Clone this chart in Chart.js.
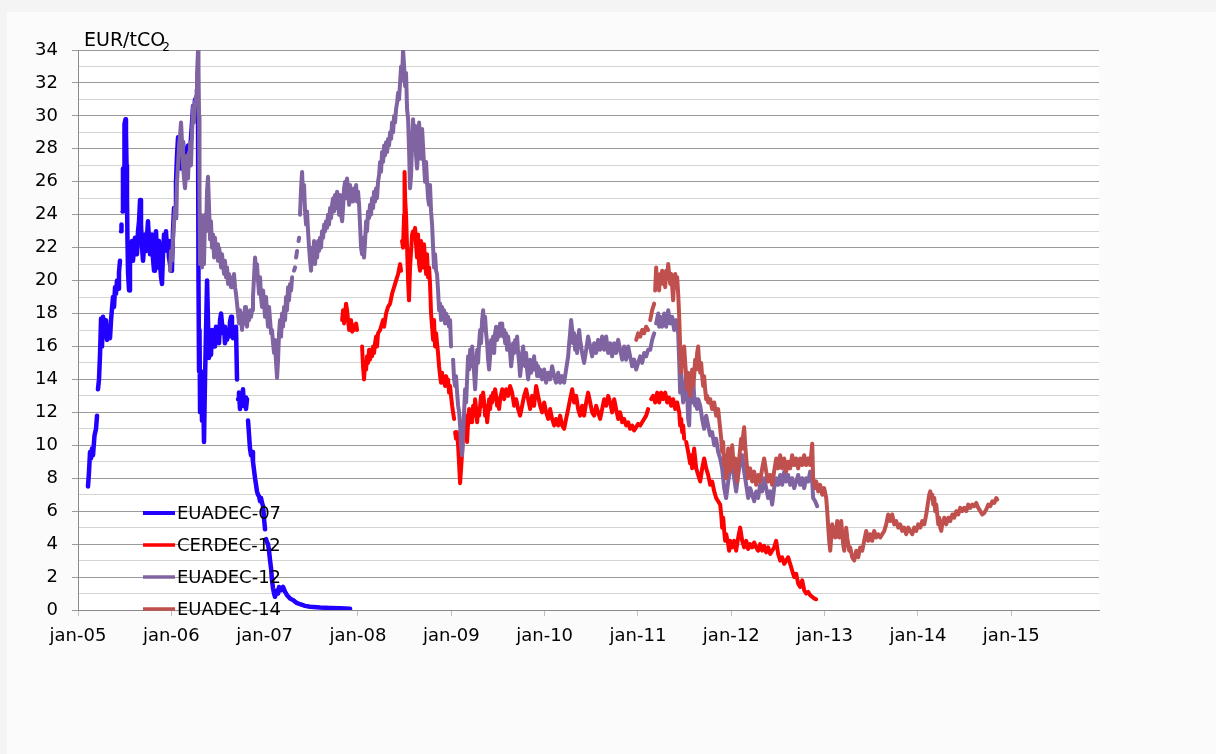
<!DOCTYPE html>
<html>
<head>
<meta charset="utf-8">
<title>EUA and CER futures prices</title>
<script src="https://cdn.jsdelivr.net/npm/chart.js@4.4.1/dist/chart.umd.min.js"></script>
<style>
  html, body { margin: 0; padding: 0; background: #fafafa; }
  canvas { display: block; }
</style>
</head>
<body>
<canvas id="chart" width="1216" height="754"></canvas>
<script>
// x values are decimal years, y values EUR/tCO2 (null = no quote)
var yearTicks = [2005, 2006, 2007, 2008, 2009, 2010, 2011, 2012, 2013, 2014, 2015];
var seriesLabels = ['EUADEC-07', 'CERDEC-12', 'EUADEC-12', 'EUADEC-14'];

var eua07Years = [
  2005.107, 2005.118, 2005.129, 2005.139, 2005.150, 2005.161, 2005.177, 2005.193, 2005.204, 2005.209,
  2005.214, 2005.225, 2005.236, 2005.247, 2005.257, 2005.268, 2005.279, 2005.289, 2005.300, 2005.311,
  2005.322, 2005.343, 2005.354, 2005.364, 2005.375, 2005.386, 2005.397, 2005.407, 2005.418, 2005.429,
  2005.439, 2005.450, 2005.455, 2005.461, 2005.466, 2005.471, 2005.477, 2005.482, 2005.488, 2005.493,
  2005.498, 2005.509, 2005.514, 2005.520, 2005.525, 2005.530, 2005.536, 2005.547, 2005.557, 2005.579,
  2005.589, 2005.611, 2005.632, 2005.643, 2005.654, 2005.665, 2005.675, 2005.686, 2005.697, 2005.718,
  2005.729, 2005.750, 2005.761, 2005.772, 2005.793, 2005.804, 2005.815, 2005.825, 2005.836, 2005.847,
  2005.857, 2005.868, 2005.879, 2005.890, 2005.900, 2005.911, 2005.922, 2005.932, 2005.943, 2005.954,
  2005.965, 2005.975, 2005.986, 2005.997, 2006.007, 2006.018, 2006.029, 2006.040, 2006.050, 2006.061,
  2006.072, 2006.083, 2006.093, 2006.104, 2006.115, 2006.125, 2006.136, 2006.147, 2006.158, 2006.168,
  2006.179, 2006.190, 2006.200, 2006.211, 2006.222, 2006.233, 2006.243, 2006.254, 2006.265, 2006.275,
  2006.286, 2006.291, 2006.297, 2006.302, 2006.308, 2006.318, 2006.329, 2006.340, 2006.350, 2006.361,
  2006.372, 2006.383, 2006.393, 2006.404, 2006.415, 2006.425, 2006.436, 2006.447, 2006.458, 2006.468,
  2006.479, 2006.490, 2006.500, 2006.511, 2006.522, 2006.533, 2006.543, 2006.554, 2006.565, 2006.575,
  2006.586, 2006.597, 2006.608, 2006.618, 2006.629, 2006.640, 2006.650, 2006.661, 2006.672, 2006.683,
  2006.693, 2006.704, 2006.710, 2006.715, 2006.725, 2006.736, 2006.747, 2006.758, 2006.768, 2006.779,
  2006.790, 2006.800, 2006.811, 2006.816, 2006.822, 2006.833, 2006.843, 2006.854, 2006.865, 2006.875,
  2006.886, 2006.897, 2006.908, 2006.918, 2006.929, 2006.940, 2006.951, 2006.961, 2006.972, 2006.983,
  2006.994, 2007.004, 2007.010, 2007.015, 2007.026, 2007.036, 2007.047, 2007.058, 2007.069, 2007.079,
  2007.090, 2007.101, 2007.111, 2007.122, 2007.133, 2007.144, 2007.154, 2007.176, 2007.197, 2007.219,
  2007.240, 2007.272, 2007.304, 2007.337, 2007.379, 2007.433, 2007.487, 2007.594, 2007.701, 2007.808,
  2007.915
];
var eua07Prices = [
  7.5, 8.4, 9.6, 9.2, 9.8, 9.4, 10.6, 11.0, 11.8, null,
  13.4, 14.0, 15.5, 17.7, 16.0, 17.8, 16.6, 17.2, 17.6, 16.4,
  17.0, 16.5, 17.6, 17.6, 19.0, 18.4, 19.6, 19.2, 20.0, 19.5,
  20.5, 21.2, null, 23.0, 23.4, null, 24.2, 26.8, 24.5, 26.5,
  29.5, 29.8, 29.0, 27.0, 25.0, 22.5, 20.5, 19.4, 21.0, 22.4,
  21.2, 22.6, 21.6, 23.0, 23.6, 24.9, 23.4, 22.0, 21.2, 22.8,
  21.8, 23.6, 22.4, 21.6, 22.8, 21.3, 20.6, 22.0, 23.0, 21.4,
  20.8, 22.4, 21.0, 20.2, 19.8, 21.6, 22.8, 22.0, 23.0, 21.8,
  22.4, 21.4, 21.0, 20.6, 20.8, 23.0, 24.4, 23.8, 26.0, 27.6,
  28.7, 27.2, 28.0, 26.8, 27.6, 28.4, 27.2, 27.8, 26.9, 27.6,
  28.2, 27.0, 27.6, 28.7, 29.6, 30.6, 30.2, 31.0, 30.8, 31.6,
  30.0, 20.0, 14.5, 17.0, 12.0, 14.5, 11.5, 13.8, 10.2, 14.0,
  17.0, 20.0, 17.5, 15.3, 16.8, 15.5, 17.0, 16.0, 16.6, 16.0,
  17.2, 16.4, 17.0, 16.2, 17.6, 18.0, 17.4, 16.8, 17.2, 16.2,
  16.8, 16.4, 17.0, 16.6, 17.5, 17.8, 17.0, 16.5, 17.0, 16.8,
  17.2, 14.0, null, 12.8, 13.2, 12.2, 13.0, 12.6, 13.4, 12.4,
  12.9, 12.2, 12.8, null, 11.5, 10.6, 9.8, 9.4, 9.6, 9.0,
  8.5, 8.0, 7.6, 7.2, 7.0, 6.9, 6.6, 6.8, 6.5, 6.3,
  5.5, 4.9, null, 4.3, 4.1, 4.0, 3.6, 3.0, 2.5, 1.8,
  1.3, 1.0, 0.8, 1.0, 1.2, 1.0, 1.4, 1.2, 1.4, 1.1,
  0.9, 0.7, 0.6, 0.45, 0.35, 0.25, 0.2, 0.15, 0.12, 0.1,
  0.07
];

var cer12Years = [
  2007.830, 2007.840, 2007.851, 2007.862, 2007.872, 2007.883, 2007.894, 2007.905, 2007.915, 2007.926,
  2007.937, 2007.947, 2007.958, 2007.964, 2007.980, 2007.990, 2008.000, 2008.044, 2008.054, 2008.065,
  2008.076, 2008.087, 2008.097, 2008.108, 2008.119, 2008.129, 2008.140, 2008.151, 2008.162, 2008.172,
  2008.183, 2008.194, 2008.204, 2008.215, 2008.237, 2008.258, 2008.269, 2008.280, 2008.301, 2008.322,
  2008.344, 2008.365, 2008.387, 2008.408, 2008.430, 2008.451, 2008.462, 2008.467, 2008.472, 2008.483,
  2008.494, 2008.499, 2008.505, 2008.515, 2008.526, 2008.537, 2008.547, 2008.558, 2008.569, 2008.580,
  2008.590, 2008.601, 2008.612, 2008.622, 2008.633, 2008.644, 2008.655, 2008.665, 2008.676, 2008.687,
  2008.697, 2008.708, 2008.719, 2008.730, 2008.740, 2008.751, 2008.762, 2008.772, 2008.783, 2008.794,
  2008.805, 2008.815, 2008.826, 2008.837, 2008.847, 2008.858, 2008.869, 2008.880, 2008.890, 2008.901,
  2008.912, 2008.922, 2008.933, 2008.944, 2008.955, 2008.965, 2008.976, 2008.987, 2008.997, 2009.009,
  2009.019, 2009.030, 2009.035, 2009.041, 2009.051, 2009.062, 2009.073, 2009.084, 2009.094, 2009.105,
  2009.116, 2009.126, 2009.137, 2009.148, 2009.159, 2009.169, 2009.180, 2009.191, 2009.202, 2009.212,
  2009.223, 2009.234, 2009.244, 2009.255, 2009.266, 2009.277, 2009.287, 2009.298, 2009.309, 2009.319,
  2009.330, 2009.341, 2009.352, 2009.362, 2009.373, 2009.384, 2009.394, 2009.405, 2009.416, 2009.427,
  2009.437, 2009.448, 2009.459, 2009.469, 2009.480, 2009.491, 2009.502, 2009.512, 2009.523, 2009.545,
  2009.566, 2009.587, 2009.609, 2009.630, 2009.652, 2009.673, 2009.695, 2009.716, 2009.737, 2009.759,
  2009.780, 2009.802, 2009.823, 2009.845, 2009.866, 2009.887, 2009.909, 2009.930, 2009.952, 2009.973,
  2009.995, 2010.016, 2010.038, 2010.059, 2010.080, 2010.102, 2010.123, 2010.145, 2010.166, 2010.188,
  2010.209, 2010.230, 2010.252, 2010.273, 2010.295, 2010.316, 2010.338, 2010.359, 2010.380, 2010.402,
  2010.423, 2010.445, 2010.466, 2010.488, 2010.509, 2010.531, 2010.552, 2010.573, 2010.595, 2010.616,
  2010.638, 2010.659, 2010.681, 2010.702, 2010.723, 2010.745, 2010.766, 2010.788, 2010.809, 2010.831,
  2010.852, 2010.873, 2010.895, 2010.916, 2010.938, 2010.959, 2010.981, 2011.002, 2011.024, 2011.045,
  2011.066, 2011.088, 2011.109, 2011.120, 2011.141, 2011.163, 2011.184, 2011.206, 2011.227, 2011.249,
  2011.270, 2011.292, 2011.313, 2011.334, 2011.356, 2011.377, 2011.399, 2011.420, 2011.442, 2011.452,
  2011.463, 2011.474, 2011.484, 2011.495, 2011.500, 2011.517, 2011.538, 2011.559, 2011.570, 2011.581,
  2011.592, 2011.602, 2011.613, 2011.624, 2011.645, 2011.667, 2011.688, 2011.709, 2011.731, 2011.752,
  2011.774, 2011.795, 2011.817, 2011.838, 2011.859, 2011.881, 2011.892, 2011.902, 2011.913, 2011.924,
  2011.934, 2011.945, 2011.967, 2011.977, 2011.988, 2012.010, 2012.031, 2012.052, 2012.074, 2012.095,
  2012.117, 2012.138, 2012.160, 2012.181, 2012.202, 2012.224, 2012.245, 2012.267, 2012.288, 2012.309,
  2012.331, 2012.352, 2012.374, 2012.395, 2012.417, 2012.438, 2012.459, 2012.481, 2012.502, 2012.524,
  2012.545, 2012.567, 2012.588, 2012.609, 2012.631, 2012.652, 2012.674, 2012.695, 2012.717, 2012.738,
  2012.760, 2012.781, 2012.802, 2012.824, 2012.845, 2012.867, 2012.888, 2012.910
];
var cer12Prices = [
  17.6, 18.2, 17.4, 18.0, 18.6, 18.2, 17.6, 17.0, 17.2, 17.6,
  16.9, 17.3, 17.0, null, 17.4, 17.0, null, 16.0, 14.8, 14.0,
  15.0, 14.6, 15.4, 15.0, 15.8, 15.2, 15.8, 15.4, 16.0, 15.6,
  16.2, 16.6, 16.0, 16.8, 17.0, 17.4, 17.6, 17.2, 18.0, 18.4,
  18.6, 19.2, 19.6, 20.0, 20.4, 21.0, 20.6, null, 22.4, 22.0,
  24.0, 26.6, 25.0, 24.0, 22.0, 20.0, 18.8, 20.8, 21.8, 22.8,
  23.0, 22.6, 23.2, 22.2, 21.4, 22.8, 21.0, 20.6, 22.4, 21.6,
  20.8, 22.2, 21.2, 20.4, 21.6, 20.2, 20.8, 19.8, 18.0, 17.2,
  16.4, 17.6, 16.0, 16.8, 16.2, 15.6, 14.8, 14.2, 13.8, 14.4,
  13.8, 14.0, 13.6, 14.2, 13.8, 14.0, 13.2, 13.6, 13.0, 12.4,
  12.0, 11.6, null, 10.8, 10.4, 10.8, 10.0, 8.8, 7.7, 8.6,
  9.6, 10.8, 11.6, 10.6, 11.8, 10.2, 11.4, 12.2, 11.4, 12.0,
  11.4, 12.4, 11.8, 12.8, 12.2, 11.4, 12.2, 11.8, 12.4, 13.0,
  12.4, 13.2, 12.6, 11.8, 12.4, 11.4, 12.0, 12.8, 12.2, 13.0,
  12.6, 13.2, 12.8, 13.4, 13.0, 12.4, 12.8, 12.2, 12.8, 13.4,
  12.8, 13.4, 13.0, 13.6, 13.2, 12.4, 12.8, 12.2, 11.8, 12.4,
  13.0, 13.4, 12.8, 12.2, 13.0, 12.4, 13.6, 13.0, 12.4, 12.0,
  12.6, 12.0, 11.6, 12.2, 11.6, 11.2, 11.6, 11.2, 11.8, 11.2,
  11.0, 11.6, 12.2, 12.8, 13.4, 12.6, 13.0, 12.2, 11.8, 12.4,
  11.8, 12.6, 13.2, 12.6, 12.0, 11.8, 12.4, 12.0, 11.6, 12.2,
  12.8, 12.4, 13.0, 12.6, 12.0, 12.8, 12.2, 11.6, 12.0, 11.4,
  11.6, 11.2, 11.4, 11.0, 11.2, 10.9, 11.1, 11.3, 11.2, 11.4,
  11.6, 11.8, 12.2, null, 12.8, 13.0, 12.6, 13.2, 12.6, 13.2,
  12.8, 13.2, 12.6, 12.9, 12.4, 12.8, 12.2, 12.6, 12.0, 11.2,
  11.6, 10.8, 11.2, 10.4, null, 10.2, 9.6, 8.9, 9.4, 8.6,
  9.2, 9.8, 9.2, 8.6, 8.2, 7.8, 8.6, 9.2, 8.6, 8.2,
  7.6, 7.8, 7.2, 6.8, 6.6, 6.4, 5.8, 5.0, 5.6, 4.8,
  4.2, 4.6, 4.0, 3.6, 4.2, 3.8, 4.2, 3.6, 4.4, 5.0,
  4.2, 3.8, 4.2, 3.7, 4.0, 3.8, 4.1, 3.8, 3.6, 4.0,
  3.6, 3.9, 3.5, 3.8, 3.4, 3.6, 3.8, 4.2, 3.4, 3.0,
  3.2, 2.8, 3.0, 3.2, 2.8, 2.4, 2.0, 2.2, 1.6, 1.4,
  1.8, 1.2, 1.0, 1.1, 0.9, 0.8, 0.7, 0.65
];

var eua12Years = [
  2005.986, 2005.997, 2006.007, 2006.018, 2006.029, 2006.040, 2006.050, 2006.061, 2006.072, 2006.083,
  2006.093, 2006.104, 2006.115, 2006.125, 2006.136, 2006.147, 2006.158, 2006.168, 2006.179, 2006.190,
  2006.200, 2006.211, 2006.222, 2006.233, 2006.243, 2006.254, 2006.265, 2006.275, 2006.286, 2006.291,
  2006.297, 2006.302, 2006.308, 2006.318, 2006.329, 2006.340, 2006.350, 2006.361, 2006.372, 2006.383,
  2006.393, 2006.404, 2006.415, 2006.425, 2006.436, 2006.447, 2006.458, 2006.468, 2006.479, 2006.490,
  2006.500, 2006.511, 2006.522, 2006.533, 2006.543, 2006.554, 2006.565, 2006.575, 2006.586, 2006.597,
  2006.608, 2006.618, 2006.629, 2006.640, 2006.650, 2006.661, 2006.672, 2006.683, 2006.693, 2006.704,
  2006.715, 2006.725, 2006.736, 2006.747, 2006.758, 2006.768, 2006.779, 2006.790, 2006.800, 2006.811,
  2006.822, 2006.833, 2006.843, 2006.854, 2006.865, 2006.875, 2006.886, 2006.897, 2006.908, 2006.918,
  2006.929, 2006.940, 2006.951, 2006.961, 2006.972, 2006.983, 2006.994, 2007.004, 2007.015, 2007.026,
  2007.036, 2007.047, 2007.058, 2007.069, 2007.079, 2007.090, 2007.101, 2007.111, 2007.122, 2007.133,
  2007.144, 2007.154, 2007.165, 2007.176, 2007.186, 2007.197, 2007.208, 2007.219, 2007.229, 2007.240,
  2007.251, 2007.261, 2007.272, 2007.283, 2007.294, 2007.300, 2007.315, 2007.326, 2007.331, 2007.337,
  2007.347, 2007.355, 2007.363, 2007.369, 2007.374, 2007.379, 2007.390, 2007.401, 2007.412, 2007.422,
  2007.433, 2007.444, 2007.454, 2007.465, 2007.476, 2007.487, 2007.497, 2007.508, 2007.519, 2007.529,
  2007.540, 2007.551, 2007.562, 2007.572, 2007.583, 2007.594, 2007.604, 2007.615, 2007.626, 2007.637,
  2007.647, 2007.658, 2007.669, 2007.679, 2007.690, 2007.701, 2007.712, 2007.722, 2007.733, 2007.744,
  2007.754, 2007.765, 2007.776, 2007.787, 2007.797, 2007.808, 2007.819, 2007.830, 2007.840, 2007.851,
  2007.862, 2007.872, 2007.883, 2007.894, 2007.905, 2007.915, 2007.926, 2007.937, 2007.947, 2007.958,
  2007.969, 2007.980, 2007.990, 2008.001, 2008.012, 2008.022, 2008.033, 2008.044, 2008.054, 2008.065,
  2008.076, 2008.087, 2008.097, 2008.108, 2008.119, 2008.129, 2008.140, 2008.151, 2008.162, 2008.172,
  2008.183, 2008.194, 2008.204, 2008.215, 2008.226, 2008.237, 2008.247, 2008.258, 2008.269, 2008.280,
  2008.290, 2008.301, 2008.312, 2008.322, 2008.333, 2008.344, 2008.355, 2008.365, 2008.376, 2008.387,
  2008.397, 2008.408, 2008.419, 2008.430, 2008.440, 2008.451, 2008.462, 2008.472, 2008.483, 2008.494,
  2008.505, 2008.515, 2008.526, 2008.537, 2008.547, 2008.558, 2008.569, 2008.580, 2008.590, 2008.601,
  2008.612, 2008.622, 2008.633, 2008.644, 2008.655, 2008.665, 2008.676, 2008.687, 2008.697, 2008.708,
  2008.719, 2008.730, 2008.740, 2008.751, 2008.762, 2008.772, 2008.783, 2008.794, 2008.805, 2008.815,
  2008.826, 2008.837, 2008.847, 2008.858, 2008.869, 2008.880, 2008.890, 2008.901, 2008.912, 2008.922,
  2008.933, 2008.944, 2008.955, 2008.965, 2008.976, 2008.987, 2008.997, 2009.003, 2009.019, 2009.030,
  2009.041, 2009.051, 2009.062, 2009.073, 2009.084, 2009.094, 2009.105, 2009.116, 2009.126, 2009.137,
  2009.148, 2009.159, 2009.169, 2009.180, 2009.191, 2009.202, 2009.212, 2009.223, 2009.234, 2009.244,
  2009.255, 2009.266, 2009.277, 2009.287, 2009.298, 2009.309, 2009.319, 2009.330, 2009.341, 2009.352,
  2009.362, 2009.373, 2009.384, 2009.394, 2009.405, 2009.416, 2009.427, 2009.437, 2009.448, 2009.459,
  2009.469, 2009.480, 2009.491, 2009.502, 2009.512, 2009.523, 2009.534, 2009.545, 2009.555, 2009.566,
  2009.577, 2009.587, 2009.598, 2009.609, 2009.620, 2009.630, 2009.641, 2009.652, 2009.662, 2009.673,
  2009.684, 2009.695, 2009.705, 2009.716, 2009.727, 2009.737, 2009.748, 2009.759, 2009.770, 2009.780,
  2009.791, 2009.802, 2009.812, 2009.823, 2009.834, 2009.845, 2009.855, 2009.866, 2009.877, 2009.887,
  2009.898, 2009.909, 2009.920, 2009.930, 2009.941, 2009.952, 2009.973, 2009.995, 2010.016, 2010.038,
  2010.059, 2010.080, 2010.102, 2010.123, 2010.145, 2010.166, 2010.188, 2010.209, 2010.230, 2010.252,
  2010.263, 2010.273, 2010.284, 2010.295, 2010.305, 2010.316, 2010.327, 2010.338, 2010.348, 2010.359,
  2010.370, 2010.380, 2010.402, 2010.423, 2010.445, 2010.466, 2010.488, 2010.509, 2010.531, 2010.552,
  2010.573, 2010.595, 2010.616, 2010.638, 2010.659, 2010.681, 2010.702, 2010.723, 2010.745, 2010.766,
  2010.788, 2010.809, 2010.831, 2010.852, 2010.873, 2010.895, 2010.916, 2010.938, 2010.959, 2010.981,
  2011.002, 2011.024, 2011.045, 2011.066, 2011.088, 2011.109, 2011.120, 2011.131, 2011.152, 2011.174,
  2011.179, 2011.195, 2011.217, 2011.227, 2011.238, 2011.259, 2011.281, 2011.302, 2011.313, 2011.324,
  2011.345, 2011.367, 2011.388, 2011.409, 2011.431, 2011.442, 2011.452, 2011.463, 2011.474, 2011.484,
  2011.495, 2011.506, 2011.517, 2011.527, 2011.538, 2011.549, 2011.559, 2011.570, 2011.581, 2011.592,
  2011.602, 2011.613, 2011.624, 2011.634, 2011.645, 2011.667, 2011.688, 2011.709, 2011.731, 2011.752,
  2011.774, 2011.795, 2011.817, 2011.838, 2011.859, 2011.881, 2011.902, 2011.924, 2011.945, 2011.967,
  2011.988, 2012.010, 2012.031, 2012.052, 2012.074, 2012.095, 2012.117, 2012.138, 2012.160, 2012.181,
  2012.202, 2012.224, 2012.245, 2012.267, 2012.288, 2012.309, 2012.331, 2012.352, 2012.374, 2012.395,
  2012.417, 2012.438, 2012.459, 2012.481, 2012.502, 2012.524, 2012.545, 2012.567, 2012.588, 2012.609,
  2012.631, 2012.652, 2012.674, 2012.695, 2012.717, 2012.738, 2012.760, 2012.781, 2012.802, 2012.824,
  2012.845, 2012.867, 2012.877, 2012.899, 2012.920
];
var eua12Prices = [
  20.6, 21.8, 21.2, 22.5, 23.5, 24.4, 23.8, 26.0, 27.0, 28.2,
  28.8, 29.6, 28.4, 27.0, 26.2, 25.6, 26.8, 27.6, 26.2, 27.8,
  28.4, 27.0, 29.0, 30.6, 29.6, 30.8, 31.2, 32.5, 34.0, 33.0,
  30.0, 25.0, 21.0, 24.0, 20.8, 22.6, 21.0, 24.0, 23.0, 25.5,
  26.3, 24.5, 22.5, 23.6, 22.0, 22.8, 21.4, 22.6, 21.6, 22.2,
  21.2, 22.0, 21.6, 20.8, 21.6, 21.0, 20.4, 21.2, 20.2, 20.8,
  19.8, 20.4, 20.0, 19.6, 20.2, 19.8, 20.4, 19.6, 19.2, 18.6,
  18.0, 17.4, 18.2, 17.6, 17.0, 18.0, 17.8, 18.4, 17.4, 17.2,
  18.0, 17.6, 18.2, 17.8, 18.2, 19.0, 20.2, 21.4, 20.6, 21.0,
  20.0, 19.2, 20.2, 19.0, 18.4, 19.4, 18.6, 17.8, 19.0, 18.0,
  17.2, 18.4, 17.6, 16.8, 17.0, 16.2, 15.6, 16.4, 15.0, 14.1,
  15.2, 16.8, 17.6, 16.6, 18.0, 17.2, 18.4, 17.6, 19.0, 18.2,
  19.6, 18.8, 19.8, 19.4, 20.2, null, 20.6, 20.8, null, 21.4,
  21.8, null, 22.4, 22.6, null, 24.0, 25.6, 26.6, 25.0, 25.8,
  24.2, 23.4, 24.2, 23.0, 22.0, 21.2, 20.6, 22.0, 21.2, 22.4,
  21.0, 22.0, 21.4, 22.4, 21.8, 22.6, 22.0, 23.0, 22.6, 23.4,
  23.0, 23.6, 23.2, 24.0, 23.4, 24.4, 23.8, 24.6, 25.0, 24.2,
  25.2, 24.4, 25.4, 24.8, 24.0, 25.2, 24.0, 23.6, 24.4, 25.6,
  26.0, 25.0, 26.2, 25.4, 24.6, 25.8, 24.8, 25.4, 24.8, 25.6,
  25.0, 25.8, 24.8, 25.4, 24.6, 23.4, 22.0, 21.6, 22.6, 21.4,
  22.4, 23.6, 23.0, 24.2, 23.8, 24.6, 24.0, 25.0, 24.4, 25.4,
  24.8, 25.6, 25.0, 26.0, 26.4, 27.2, 26.6, 27.8, 27.2, 28.2,
  27.6, 28.4, 27.8, 28.6, 28.2, 29.0, 28.6, 29.6, 29.0, 30.0,
  29.6, 30.4, 30.8, 31.4, 31.0, 32.0, 33.0, 32.2, 34.0, 33.0,
  31.8, 32.6, 30.4, 29.8, 28.0, 25.6, 26.4, 28.4, 29.8, 28.6,
  29.4, 27.6, 26.8, 27.8, 29.6, 28.4, 27.4, 29.2, 28.2, 27.0,
  26.0, 27.2, 26.0, 25.0, 24.6, 25.8, 24.2, 23.4, 22.0, 20.8,
  21.6, 20.6, 20.4, 19.4, 18.2, 18.6, 17.6, 18.4, 17.8, 18.2,
  17.4, 18.0, 17.4, 17.8, 17.2, 17.6, 16.0, null, 15.2, 14.0,
  13.6, 14.2, 13.2, 12.4, 12.0, 11.2, 10.0, 9.4, 10.6, 12.0,
  13.4, 12.6, 14.0, 15.4, 14.6, 15.8, 14.8, 16.0, 15.2, 14.4,
  13.4, 14.6, 15.8, 15.0, 16.2, 17.0, 16.2, 17.6, 18.2, 17.0,
  17.8, 16.8, 16.2, 15.2, 14.6, 15.4, 16.4, 15.8, 16.6, 15.6,
  16.8, 17.2, 16.4, 17.0, 16.6, 17.4, 16.8, 17.4, 16.6, 17.0,
  16.2, 16.8, 15.8, 16.6, 16.0, 15.6, 14.8, 15.4, 16.2, 15.6,
  16.4, 15.8, 16.6, 15.6, 15.0, 14.2, 14.8, 15.6, 16.0, 15.2,
  14.8, 15.6, 14.6, 14.0, 14.6, 15.2, 14.4, 15.0, 14.6, 15.4,
  14.6, 15.0, 14.2, 14.8, 14.2, 14.6, 14.0, 14.6, 13.8, 14.4,
  14.0, 14.8, 14.2, 13.8, 14.4, 13.8, 14.2, 13.8, 14.6, 15.4,
  16.2, 16.8, 17.6, 17.0, 16.2, 16.8, 15.8, 16.6, 15.6, 16.4,
  17.0, 16.4, 15.6, 15.0, 15.8, 16.6, 16.0, 15.4, 16.2, 15.6,
  16.4, 15.8, 16.6, 15.8, 16.6, 15.6, 16.2, 15.4, 16.2, 15.6,
  16.4, 15.8, 15.2, 16.0, 15.2, 16.0, 15.4, 14.8, 15.2, 14.6,
  15.0, 15.4, 15.0, 15.6, 15.4, 15.8, null, 15.8, 16.4, 16.8,
  null, 17.4, 18.0, 17.2, 17.8, 17.2, 18.0, 17.2, 17.8, 18.2,
  17.4, 17.8, 17.0, 17.6, 16.8, 15.0, 13.2, 14.6, 13.4, 12.6,
  13.8, 12.8, 14.4, 13.2, 11.6, 11.2, 13.4, 13.8, 12.6, 14.0,
  13.0, 12.4, 12.8, 12.2, 12.8, 12.4, 11.6, 11.0, 11.8, 11.2,
  10.6, 10.8, 10.0, 10.4, 9.6, 9.2, 8.6, 7.4, 6.8, 7.8,
  8.6, 9.0, 8.0, 7.2, 8.2, 9.0, 9.4, 8.4, 7.6, 6.8,
  7.4, 7.0, 6.6, 7.2, 6.8, 7.6, 7.2, 8.0, 7.4, 6.8,
  7.2, 6.4, 7.4, 8.0, 7.6, 8.2, 7.6, 8.4, 7.8, 8.2,
  7.6, 8.0, 7.4, 7.8, 8.2, 7.6, 8.0, 7.4, 8.0, 7.8,
  8.4, 7.8, 6.8, 6.6, 6.3
];

var eua14Years = [
  2010.981, 2011.002, 2011.024, 2011.045, 2011.055, 2011.066, 2011.088, 2011.109, 2011.120, 2011.131,
  2011.152, 2011.174, 2011.179, 2011.184, 2011.195, 2011.206, 2011.217, 2011.227, 2011.238, 2011.249,
  2011.259, 2011.270, 2011.281, 2011.292, 2011.302, 2011.313, 2011.324, 2011.334, 2011.345, 2011.356,
  2011.367, 2011.377, 2011.388, 2011.399, 2011.409, 2011.420, 2011.431, 2011.442, 2011.452, 2011.463,
  2011.474, 2011.484, 2011.495, 2011.506, 2011.517, 2011.527, 2011.538, 2011.549, 2011.559, 2011.570,
  2011.581, 2011.592, 2011.602, 2011.613, 2011.624, 2011.634, 2011.645, 2011.656, 2011.667, 2011.677,
  2011.688, 2011.699, 2011.709, 2011.720, 2011.731, 2011.742, 2011.752, 2011.774, 2011.795, 2011.817,
  2011.838, 2011.859, 2011.881, 2011.892, 2011.902, 2011.913, 2011.924, 2011.934, 2011.945, 2011.956,
  2011.967, 2011.977, 2011.988, 2011.999, 2012.010, 2012.020, 2012.031, 2012.042, 2012.052, 2012.063,
  2012.074, 2012.085, 2012.095, 2012.106, 2012.117, 2012.127, 2012.138, 2012.149, 2012.160, 2012.170,
  2012.181, 2012.202, 2012.224, 2012.245, 2012.267, 2012.288, 2012.309, 2012.331, 2012.352, 2012.374,
  2012.395, 2012.417, 2012.438, 2012.459, 2012.481, 2012.502, 2012.524, 2012.545, 2012.567, 2012.588,
  2012.609, 2012.631, 2012.652, 2012.674, 2012.695, 2012.717, 2012.738, 2012.760, 2012.781, 2012.802,
  2012.824, 2012.845, 2012.856, 2012.867, 2012.877, 2012.899, 2012.910, 2012.931, 2012.952, 2012.974,
  2012.995, 2013.017, 2013.028, 2013.039, 2013.049, 2013.060, 2013.071, 2013.081, 2013.092, 2013.103,
  2013.114, 2013.124, 2013.135, 2013.146, 2013.156, 2013.167, 2013.178, 2013.189, 2013.199, 2013.210,
  2013.221, 2013.231, 2013.242, 2013.253, 2013.264, 2013.274, 2013.296, 2013.317, 2013.339, 2013.360,
  2013.381, 2013.403, 2013.424, 2013.446, 2013.467, 2013.489, 2013.510, 2013.531, 2013.553, 2013.574,
  2013.596, 2013.617, 2013.639, 2013.660, 2013.681, 2013.703, 2013.724, 2013.746, 2013.767, 2013.789,
  2013.810, 2013.831, 2013.853, 2013.874, 2013.896, 2013.917, 2013.939, 2013.960, 2013.982, 2014.003,
  2014.025, 2014.046, 2014.068, 2014.089, 2014.110, 2014.121, 2014.132, 2014.143, 2014.153, 2014.164,
  2014.175, 2014.185, 2014.196, 2014.207, 2014.218, 2014.228, 2014.239, 2014.250, 2014.260, 2014.282,
  2014.303, 2014.325, 2014.346, 2014.368, 2014.389, 2014.411, 2014.432, 2014.453, 2014.475, 2014.496,
  2014.518, 2014.539, 2014.561, 2014.582, 2014.603, 2014.625, 2014.646, 2014.668, 2014.689, 2014.711,
  2014.732, 2014.754, 2014.775, 2014.797, 2014.818, 2014.839, 2014.850
];
var eua14Prices = [
  16.4, 16.8, 16.6, 17.0, null, 16.8, 17.2, 17.0, null, 17.6,
  18.2, 18.6, null, 19.4, 20.8, 19.6, 20.2, 19.4, 20.4, 20.0,
  20.6, 19.8, 20.4, 19.6, 20.6, 20.2, 21.0, 20.4, 19.8, 20.4,
  19.6, 18.8, 20.0, 20.4, 19.6, 20.2, 19.2, 17.8, 16.0, 14.4,
  15.8, 14.8, 16.0, 15.0, 14.2, 13.4, 14.4, 13.6, 13.0, 13.8,
  14.6, 13.6, 14.2, 15.2, 14.6, 15.6, 16.0, 15.0, 14.4, 15.0,
  14.2, 13.6, 14.2, 13.4, 12.8, 13.0, 12.6, 12.8, 12.2, 12.6,
  11.8, 12.2, 11.0, 10.4, 9.6, 10.2, 8.8, 9.4, 8.0, 8.8,
  9.8, 9.0, 8.4, 9.4, 10.0, 9.2, 8.6, 9.2, 8.2, 7.8,
  8.6, 9.2, 9.8, 10.4, 9.8, 10.6, 11.1, 10.0, 9.2, 8.6,
  8.0, 8.6, 7.8, 8.4, 7.6, 8.2, 7.8, 8.6, 9.2, 8.4,
  7.8, 8.2, 7.6, 8.4, 9.2, 8.6, 9.4, 8.6, 9.2, 8.4,
  9.0, 8.6, 9.4, 8.8, 9.2, 8.6, 9.2, 8.8, 9.4, 8.8,
  9.2, 8.8, 9.4, 10.1, 8.0, 7.4, 7.8, 7.2, 7.6, 7.0,
  7.4, 6.8, 6.0, 5.0, 4.2, 3.6, 4.4, 5.2, 4.6, 5.0,
  4.4, 4.8, 5.4, 5.0, 4.4, 4.8, 5.4, 4.6, 4.0, 3.6,
  4.2, 5.0, 4.4, 4.0, 3.6, 3.8, 3.2, 3.0, 3.6, 3.2,
  3.8, 3.6, 4.2, 4.8, 4.2, 4.6, 4.2, 4.8, 4.4, 4.6,
  4.4, 4.6, 4.8, 5.2, 5.8, 5.4, 5.8, 5.2, 5.4, 5.0,
  5.2, 4.8, 5.0, 4.6, 5.0, 4.8, 4.6, 5.0, 4.8, 5.2,
  5.0, 5.4, 5.2, 5.8, 6.6, 7.0, 7.2, 6.8, 7.0, 6.4,
  6.8, 6.0, 6.4, 5.8, 5.2, 5.6, 5.0, 4.8, 5.2, 5.6,
  5.2, 5.6, 5.4, 5.8, 5.6, 6.0, 5.8, 6.2, 6.0, 6.2,
  6.0, 6.4, 6.2, 6.4, 6.3, 6.5, 6.2, 6.0, 5.8, 5.9,
  6.1, 6.4, 6.3, 6.6, 6.5, 6.8, 6.7
];

function toPoints(years, prices) {
  return years.map(function (x, i) {
    return { x: x, y: prices[i] };
  });
}

var colors = ['#2200ff', '#ff0000', '#8064a2', '#c0504d'];
var widths = [4.5, 4, 4, 4];

// Excel-like background: light grey page, white plot area
var backgroundPlugin = {
  id: 'background',
  beforeDraw: function (chart) {
    var ctx = chart.ctx;
    var a = chart.chartArea;
    ctx.save();
    ctx.fillStyle = '#f4f4f4';
    ctx.fillRect(0, 0, chart.width, chart.height);
    ctx.fillStyle = '#fbfbfb';
    ctx.fillRect(7, 12, chart.width - 7, chart.height - 12);
    ctx.fillStyle = '#ffffff';
    ctx.fillRect(a.left, a.top, a.right - a.left, a.bottom - a.top);
    ctx.restore();
  }
};

// unit label and legend drawn inside the plot like the original
var overlayPlugin = {
  id: 'overlay',
  afterDatasetsDraw: function (chart) {
    var ctx = chart.ctx;
    ctx.save();
    ctx.fillStyle = '#000';
    ctx.textBaseline = 'alphabetic';
    ctx.textAlign = 'left';
    ctx.font = '19px "DejaVu Sans"';
    var unit = 'EUR/tCO';
    ctx.fillText(unit, 84, 46);
    var w = ctx.measureText(unit).width;
    ctx.font = '12px "DejaVu Sans"';
    ctx.fillText('2', 84 + w - 3, 51);

    ctx.font = '18px "DejaVu Sans"';
    ctx.textBaseline = 'middle';
    seriesLabels.forEach(function (label, i) {
      var y = 513 + i * 32;
      ctx.strokeStyle = colors[i];
      ctx.lineWidth = widths[i] - 0.5;
      ctx.beginPath();
      ctx.moveTo(143, y);
      ctx.lineTo(175, y);
      ctx.stroke();
      ctx.fillStyle = '#000';
      ctx.fillText(label, 177, y + 1);
    });
    ctx.restore();
  }
};

Chart.defaults.font.family = '"DejaVu Sans", Verdana, sans-serif';
Chart.defaults.font.size = 18;
Chart.defaults.color = '#000';

function makeDataset(i, years, prices, order) {
  return {
    label: seriesLabels[i],
    data: toPoints(years, prices),
    borderColor: colors[i],
    backgroundColor: colors[i],
    borderWidth: widths[i],
    pointRadius: 0,
    tension: 0,
    spanGaps: false,
    borderJoinStyle: 'round',
    borderCapStyle: 'round',
    order: order
  };
}

new Chart(document.getElementById('chart'), {
  type: 'line',
  data: {
    datasets: [
      makeDataset(0, eua07Years, eua07Prices, 4),
      makeDataset(1, cer12Years, cer12Prices, 3),
      makeDataset(2, eua12Years, eua12Prices, 2),
      makeDataset(3, eua14Years, eua14Prices, 1)
    ]
  },
  options: {
    responsive: false,
    animation: false,
    events: [],
    layout: {
      padding: { left: 0, top: 50, right: 117, bottom: 104 }
    },
    plugins: {
      legend: { display: false },
      tooltip: { enabled: false }
    },
    scales: {
      x: {
        type: 'linear',
        min: 2005,
        max: 2015.94,
        afterBuildTicks: function (scale) {
          scale.ticks = yearTicks.map(function (v) { return { value: v }; });
        },
        afterFit: function (scale) { scale.height = 40; },
        ticks: {
          autoSkip: false,
          maxRotation: 0,
          padding: 10,
          callback: function (value) {
            return 'jan-' + String(value).slice(2);
          }
        },
        grid: {
          drawOnChartArea: false,
          tickLength: 6,
          tickColor: '#c0c0c0'
        },
        border: { color: '#8c8c8c', width: 1 }
      },
      y: {
        min: 0,
        max: 34,
        afterFit: function (scale) { scale.width = 78; },
        ticks: {
          stepSize: 1,
          autoSkip: false,
          padding: 14,
          callback: function (value) {
            return value % 2 === 0 ? String(value) : '';
          }
        },
        grid: {
          tickLength: 6,
          color: function (ctx) {
            return ctx.tick && ctx.tick.value % 2 === 0 ? '#9a9a9a' : '#d4d4d4';
          },
          tickColor: function (ctx) {
            return ctx.tick && ctx.tick.value % 2 === 0 ? '#9a9a9a' : 'rgba(0,0,0,0)';
          }
        },
        border: { color: '#8c8c8c', width: 1 }
      }
    }
  },
  plugins: [backgroundPlugin, overlayPlugin]
});
</script>
</body>
</html>
